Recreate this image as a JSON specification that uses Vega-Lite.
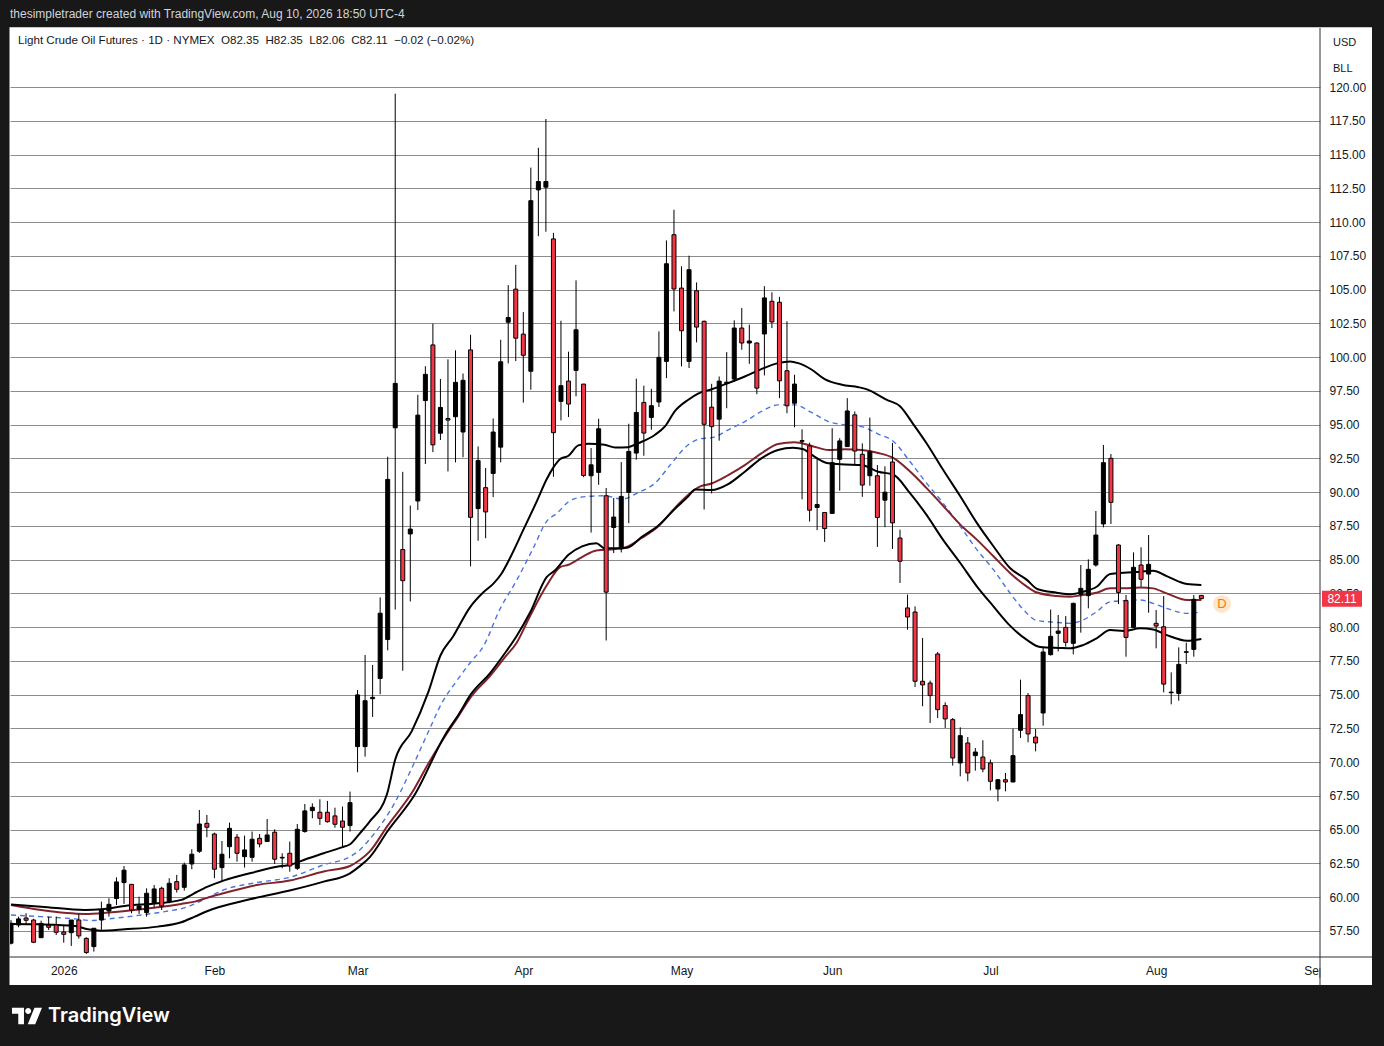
{
  "$schema": "https://vega.github.io/schema/vega-lite/v6.json",
  "description": "Light Crude Oil Futures daily candles with channel lines, TradingView style.",
  "width": 1310,
  "height": 929,
  "autosize": {"type": "none"},
  "padding": {"left": 10, "top": 28, "right": 64, "bottom": 89},
  "background": "#ffffff",
  "config": {"view": {"stroke": null}, "font": "Liberation Sans"},
  "datasets": {
    "candles": [
      {"i":0,"o":56.59,"h":58.3,"l":56.5,"c":58.07},
      {"i":1,"o":57.94,"h":58.56,"l":57.77,"c":58.39},
      {"i":2,"o":58.46,"h":58.81,"l":58.02,"c":58.29},
      {"i":3,"o":58.31,"h":58.4,"l":56.6,"c":56.66},
      {"i":4,"o":57.0,"h":58.26,"l":57.0,"c":58.06},
      {"i":5,"o":57.92,"h":58.56,"l":57.57,"c":57.77},
      {"i":6,"o":57.94,"h":58.56,"l":57.2,"c":57.4},
      {"i":7,"o":57.42,"h":57.94,"l":56.63,"c":57.25},
      {"i":8,"o":57.37,"h":58.31,"l":56.39,"c":58.31},
      {"i":9,"o":58.31,"h":58.76,"l":56.93,"c":57.13},
      {"i":10,"o":56.95,"h":57.03,"l":55.8,"c":55.9},
      {"i":11,"o":56.34,"h":57.7,"l":55.97,"c":57.7},
      {"i":12,"o":58.31,"h":59.67,"l":57.57,"c":59.05},
      {"i":13,"o":58.98,"h":59.92,"l":58.56,"c":59.47},
      {"i":14,"o":59.9,"h":61.47,"l":59.42,"c":61.13},
      {"i":15,"o":61.08,"h":62.31,"l":59.5,"c":62.0},
      {"i":16,"o":60.95,"h":60.98,"l":58.81,"c":59.05},
      {"i":17,"o":59.1,"h":60.04,"l":58.76,"c":59.35},
      {"i":18,"o":58.86,"h":60.66,"l":58.56,"c":60.29},
      {"i":19,"o":59.55,"h":60.9,"l":59.25,"c":60.61},
      {"i":20,"o":60.66,"h":60.78,"l":59.05,"c":59.35},
      {"i":21,"o":59.67,"h":61.4,"l":59.55,"c":61.03},
      {"i":22,"o":61.15,"h":61.65,"l":60.34,"c":60.58},
      {"i":23,"o":60.73,"h":62.56,"l":60.49,"c":62.39},
      {"i":24,"o":62.46,"h":63.55,"l":62.07,"c":63.18},
      {"i":25,"o":63.4,"h":66.46,"l":63.28,"c":65.42},
      {"i":26,"o":65.47,"h":66.09,"l":64.44,"c":65.18},
      {"i":27,"o":64.68,"h":64.78,"l":61.4,"c":62.07},
      {"i":28,"o":62.19,"h":64.16,"l":61.15,"c":63.18},
      {"i":29,"o":63.74,"h":65.52,"l":62.88,"c":65.1},
      {"i":30,"o":64.44,"h":64.68,"l":62.63,"c":63.25},
      {"i":31,"o":63.0,"h":64.56,"l":62.19,"c":63.5},
      {"i":32,"o":62.95,"h":64.86,"l":62.63,"c":64.29},
      {"i":33,"o":64.36,"h":64.68,"l":63.69,"c":63.94},
      {"i":34,"o":64.12,"h":65.79,"l":64.12,"c":64.61},
      {"i":35,"o":64.81,"h":65.03,"l":62.46,"c":62.81},
      {"i":36,"o":62.9,"h":63.25,"l":62.14,"c":62.95},
      {"i":37,"o":63.25,"h":64.12,"l":61.89,"c":62.31},
      {"i":38,"o":62.14,"h":65.42,"l":62.02,"c":65.03},
      {"i":39,"o":64.86,"h":66.9,"l":64.78,"c":66.39},
      {"i":40,"o":66.41,"h":66.95,"l":65.84,"c":66.66},
      {"i":41,"o":66.29,"h":67.25,"l":65.35,"c":65.84},
      {"i":42,"o":66.29,"h":67.13,"l":65.52,"c":65.59},
      {"i":43,"o":66.02,"h":66.63,"l":65.15,"c":65.4},
      {"i":44,"o":65.64,"h":66.71,"l":63.74,"c":65.18},
      {"i":45,"o":65.3,"h":67.82,"l":64.86,"c":67.0},
      {"i":46,"o":71.15,"h":75.35,"l":69.25,"c":74.98},
      {"i":47,"o":71.15,"h":77.94,"l":70.41,"c":74.55},
      {"i":48,"o":74.7,"h":77.2,"l":73.35,"c":74.8},
      {"i":49,"o":76.2,"h":82.2,"l":75.03,"c":81.03},
      {"i":50,"o":79.08,"h":92.62,"l":78.28,"c":90.94},
      {"i":51,"o":94.76,"h":119.5,"l":81.3,"c":98.05},
      {"i":52,"o":85.75,"h":91.5,"l":76.77,"c":83.44},
      {"i":53,"o":86.9,"h":89.0,"l":81.9,"c":87.26},
      {"i":54,"o":89.34,"h":97.2,"l":88.67,"c":95.7},
      {"i":55,"o":96.78,"h":99.32,"l":92.08,"c":98.72},
      {"i":56,"o":100.9,"h":102.47,"l":92.96,"c":93.5},
      {"i":57,"o":94.36,"h":98.38,"l":93.86,"c":96.27},
      {"i":58,"o":95.45,"h":99.83,"l":91.53,"c":95.33},
      {"i":59,"o":95.58,"h":100.5,"l":92.2,"c":98.13},
      {"i":60,"o":94.45,"h":98.78,"l":92.58,"c":98.28},
      {"i":61,"o":100.53,"h":101.65,"l":84.5,"c":88.13},
      {"i":62,"o":88.78,"h":93.38,"l":86.4,"c":92.33},
      {"i":63,"o":90.33,"h":91.78,"l":86.58,"c":88.53},
      {"i":64,"o":91.38,"h":95.45,"l":89.63,"c":94.45},
      {"i":65,"o":93.33,"h":101.28,"l":92.2,"c":99.65},
      {"i":66,"o":102.58,"h":105.33,"l":99.53,"c":102.93},
      {"i":67,"o":105.03,"h":106.83,"l":99.7,"c":101.4},
      {"i":68,"o":101.7,"h":103.33,"l":96.63,"c":100.13},
      {"i":69,"o":98.95,"h":114.03,"l":97.58,"c":111.58},
      {"i":70,"o":112.38,"h":115.5,"l":108.95,"c":113.0},
      {"i":71,"o":112.58,"h":117.63,"l":109.28,"c":113.0},
      {"i":72,"o":108.75,"h":109.2,"l":91.13,"c":94.4},
      {"i":73,"o":96.72,"h":102.69,"l":95.31,"c":97.88},
      {"i":74,"o":98.22,"h":100.4,"l":95.56,"c":96.52},
      {"i":75,"o":99.01,"h":105.68,"l":97.09,"c":102.02},
      {"i":76,"o":98.0,"h":98.0,"l":91.1,"c":91.23},
      {"i":77,"o":91.21,"h":93.26,"l":87.0,"c":92.02},
      {"i":78,"o":91.46,"h":95.43,"l":90.54,"c":94.69},
      {"i":79,"o":89.73,"h":90.3,"l":79.01,"c":82.59},
      {"i":80,"o":87.38,"h":89.56,"l":85.48,"c":88.15},
      {"i":81,"o":85.8,"h":92.22,"l":85.53,"c":89.68},
      {"i":82,"o":89.98,"h":95.06,"l":87.7,"c":93.01},
      {"i":83,"o":92.89,"h":98.4,"l":92.4,"c":95.9},
      {"i":84,"o":96.64,"h":97.88,"l":92.69,"c":94.37},
      {"i":85,"o":95.53,"h":97.65,"l":94.62,"c":96.4},
      {"i":86,"o":96.67,"h":101.9,"l":96.3,"c":99.98},
      {"i":87,"o":99.68,"h":108.64,"l":98.44,"c":106.91},
      {"i":88,"o":109.06,"h":110.91,"l":103.38,"c":105.04},
      {"i":89,"o":105.11,"h":106.72,"l":99.31,"c":101.95},
      {"i":90,"o":99.68,"h":107.51,"l":99.19,"c":106.47},
      {"i":91,"o":104.91,"h":105.53,"l":101.09,"c":102.22},
      {"i":92,"o":102.65,"h":102.7,"l":88.71,"c":95.02},
      {"i":93,"o":96.29,"h":98.02,"l":89.9,"c":94.85},
      {"i":94,"o":95.4,"h":98.56,"l":93.81,"c":98.22},
      {"i":95,"o":98.04,"h":100.37,"l":96.21,"c":98.14},
      {"i":96,"o":98.37,"h":102.72,"l":98.19,"c":102.15},
      {"i":97,"o":102.15,"h":103.64,"l":100.54,"c":101.04},
      {"i":98,"o":101.04,"h":102.4,"l":99.5,"c":101.19},
      {"i":99,"o":101.04,"h":101.1,"l":97.25,"c":97.7},
      {"i":100,"o":101.71,"h":105.25,"l":98.64,"c":104.38},
      {"i":101,"o":104.13,"h":104.8,"l":102.15,"c":102.6},
      {"i":102,"o":104.06,"h":104.46,"l":96.96,"c":98.24},
      {"i":103,"o":98.99,"h":102.65,"l":95.84,"c":96.39},
      {"i":104,"o":96.58,"h":98.69,"l":94.8,"c":98.0},
      {"i":105,"o":93.76,"h":94.65,"l":89.46,"c":93.81},
      {"i":106,"o":93.42,"h":93.66,"l":87.82,"c":88.66},
      {"i":107,"o":88.86,"h":92.45,"l":87.18,"c":89.08},
      {"i":108,"o":88.49,"h":88.5,"l":86.31,"c":87.3},
      {"i":109,"o":88.42,"h":94.73,"l":88.42,"c":92.18},
      {"i":110,"o":92.43,"h":93.99,"l":90.1,"c":93.79},
      {"i":111,"o":93.37,"h":96.96,"l":93.37,"c":96.01},
      {"i":112,"o":95.72,"h":95.97,"l":92.05,"c":93.04},
      {"i":113,"o":92.8,"h":93.61,"l":89.65,"c":90.52},
      {"i":114,"o":91.21,"h":95.52,"l":90.47,"c":93.0},
      {"i":115,"o":91.21,"h":92.0,"l":85.94,"c":88.12},
      {"i":116,"o":89.4,"h":91.91,"l":87.4,"c":89.99},
      {"i":117,"o":92.23,"h":93.64,"l":85.79,"c":87.72},
      {"i":118,"o":86.6,"h":87.22,"l":83.27,"c":84.88},
      {"i":119,"o":81.42,"h":82.41,"l":79.81,"c":80.75},
      {"i":120,"o":81.12,"h":81.54,"l":75.57,"c":75.99},
      {"i":121,"o":75.99,"h":79.2,"l":74.14,"c":75.72},
      {"i":122,"o":75.86,"h":76.04,"l":72.9,"c":74.93},
      {"i":123,"o":78.01,"h":78.16,"l":73.27,"c":73.89},
      {"i":124,"o":74.19,"h":74.43,"l":72.53,"c":73.2},
      {"i":125,"o":73.15,"h":73.27,"l":69.74,"c":70.31},
      {"i":126,"o":69.94,"h":72.58,"l":68.95,"c":71.96},
      {"i":127,"o":71.42,"h":71.86,"l":68.58,"c":69.2},
      {"i":128,"o":70.48,"h":71.05,"l":69.37,"c":70.75},
      {"i":129,"o":70.38,"h":71.62,"l":69.25,"c":69.49},
      {"i":130,"o":69.94,"h":70.19,"l":67.91,"c":68.58},
      {"i":131,"o":68.01,"h":68.75,"l":67.1,"c":68.7},
      {"i":132,"o":68.7,"h":69.2,"l":67.84,"c":68.53},
      {"i":133,"o":68.53,"h":72.48,"l":68.53,"c":70.48},
      {"i":134,"o":72.36,"h":76.11,"l":71.79,"c":73.52},
      {"i":135,"o":74.93,"h":75.12,"l":71.47,"c":72.09},
      {"i":136,"o":71.86,"h":72.46,"l":70.8,"c":71.42},
      {"i":137,"o":73.64,"h":78.46,"l":72.7,"c":78.16},
      {"i":138,"o":77.96,"h":81.3,"l":77.89,"c":79.32},
      {"i":139,"o":79.54,"h":80.9,"l":78.2,"c":79.71},
      {"i":140,"o":79.98,"h":80.82,"l":78.55,"c":78.87},
      {"i":141,"o":78.8,"h":81.81,"l":77.98,"c":81.76},
      {"i":142,"o":82.43,"h":84.6,"l":79.59,"c":82.87},
      {"i":143,"o":82.33,"h":85.02,"l":81.39,"c":84.28},
      {"i":144,"o":84.6,"h":88.6,"l":84.48,"c":86.82},
      {"i":145,"o":87.64,"h":93.49,"l":87.39,"c":92.18},
      {"i":146,"o":92.5,"h":92.82,"l":87.64,"c":89.24},
      {"i":147,"o":86.08,"h":86.15,"l":81.71,"c":82.57},
      {"i":148,"o":81.96,"h":82.38,"l":77.81,"c":79.24},
      {"i":149,"o":79.98,"h":85.54,"l":79.98,"c":84.43},
      {"i":150,"o":84.6,"h":85.91,"l":82.99,"c":83.54},
      {"i":151,"o":83.93,"h":86.82,"l":81.07,"c":84.65},
      {"i":152,"o":80.28,"h":81.27,"l":78.43,"c":80.08},
      {"i":153,"o":80.03,"h":82.3,"l":75.17,"c":75.78},
      {"i":154,"o":75.14,"h":76.65,"l":74.28,"c":75.19},
      {"i":155,"o":75.09,"h":78.5,"l":74.55,"c":77.24},
      {"i":156,"o":78.13,"h":78.85,"l":77.27,"c":78.18},
      {"i":157,"o":78.35,"h":82.38,"l":77.81,"c":82.06},
      {"i":158,"o":82.35,"h":82.35,"l":82.06,"c":82.11}
    ],
    "bands": [
      {"s":"U","i":0,"v":59.45},{"s":"U","i":4,"v":59.3},{"s":"U","i":9.8,"v":59.05},{"s":"U","i":12,"v":59.1},
      {"s":"U","i":15.1,"v":59.35},{"s":"U","i":19.5,"v":59.55},{"s":"U","i":22.6,"v":59.8},{"s":"U","i":24.2,"v":60.25},
      {"s":"U","i":26.1,"v":60.78},{"s":"U","i":28.2,"v":61.23},{"s":"U","i":32.6,"v":61.9},{"s":"U","i":35.3,"v":62.26},
      {"s":"U","i":37,"v":62.39},{"s":"U","i":39.2,"v":62.83},{"s":"U","i":41.5,"v":63.25},{"s":"U","i":43.9,"v":63.69},
      {"s":"U","i":45,"v":63.92},{"s":"U","i":46.3,"v":64.73},{"s":"U","i":47.6,"v":65.6},{"s":"U","i":49.9,"v":67.62},
      {"s":"U","i":51,"v":70.2},{"s":"U","i":53.2,"v":72.3},{"s":"U","i":55.4,"v":75.2},{"s":"U","i":57,"v":77.9},
      {"s":"U","i":58.7,"v":79.33},{"s":"U","i":60.9,"v":81.45},{"s":"U","i":62.7,"v":82.58},{"s":"U","i":64,"v":83.2},
      {"s":"U","i":65.1,"v":83.95},{"s":"U","i":66.2,"v":85.08},{"s":"U","i":68,"v":87.2},{"s":"U","i":69.8,"v":89.33},
      {"s":"U","i":71.1,"v":90.95},{"s":"U","i":72,"v":91.83},{"s":"U","i":72.9,"v":92.45},{"s":"U","i":74,"v":92.69},
      {"s":"U","i":75.3,"v":93.46},{"s":"U","i":76.6,"v":93.58},{"s":"U","i":78.8,"v":93.5},{"s":"U","i":80.2,"v":93.3},
      {"s":"U","i":81.9,"v":93.33},{"s":"U","i":83.3,"v":93.63},{"s":"U","i":85.5,"v":94.25},{"s":"U","i":86.8,"v":94.86},
      {"s":"U","i":88.1,"v":95.98},{"s":"U","i":89.9,"v":96.84},{"s":"U","i":91.2,"v":97.3},{"s":"U","i":93,"v":97.62},
      {"s":"U","i":95.2,"v":98.07},{"s":"U","i":97.4,"v":98.56},{"s":"U","i":99.6,"v":99.11},{"s":"U","i":101.8,"v":99.55},
      {"s":"U","i":103.4,"v":99.68},{"s":"U","i":104.5,"v":99.55},{"s":"U","i":106.3,"v":99.06},{"s":"U","i":108,"v":98.37},
      {"s":"U","i":110.3,"v":97.95},{"s":"U","i":112.5,"v":97.77},{"s":"U","i":113.8,"v":97.57},{"s":"U","i":115.3,"v":97.13},
      {"s":"U","i":116.2,"v":96.85},{"s":"U","i":118,"v":96.36},{"s":"U","i":119.8,"v":95.0},{"s":"U","i":121.5,"v":93.64},
      {"s":"U","i":123.7,"v":91.67},{"s":"U","i":126,"v":89.69},{"s":"U","i":128.2,"v":87.72},{"s":"U","i":130.4,"v":85.99},
      {"s":"U","i":132.6,"v":84.38},{"s":"U","i":134.8,"v":83.52},{"s":"U","i":136.3,"v":82.8},{"s":"U","i":138.8,"v":82.55},
      {"s":"U","i":140.6,"v":82.43},{"s":"U","i":142.3,"v":82.62},{"s":"U","i":144.1,"v":82.99},{"s":"U","i":145.9,"v":83.93},
      {"s":"U","i":147.7,"v":84.03},{"s":"U","i":149.9,"v":84.1},{"s":"U","i":151.6,"v":84.18},{"s":"U","i":153.4,"v":83.78},
      {"s":"U","i":156.1,"v":83.19},{"s":"U","i":158,"v":83.12},

      {"s":"R","i":0,"v":59.42},{"s":"R","i":4,"v":59.05},{"s":"R","i":9.8,"v":58.76},{"s":"R","i":12.9,"v":58.86},
      {"s":"R","i":17.3,"v":59.1},{"s":"R","i":19.5,"v":59.25},{"s":"R","i":22.6,"v":59.5},{"s":"R","i":24.4,"v":59.67},
      {"s":"R","i":26.1,"v":59.97},{"s":"R","i":28.2,"v":60.29},{"s":"R","i":32.6,"v":60.9},{"s":"R","i":37,"v":61.23},
      {"s":"R","i":41.5,"v":61.9},{"s":"R","i":45,"v":62.31},{"s":"R","i":46.3,"v":62.75},{"s":"R","i":47.6,"v":63.37},
      {"s":"R","i":50,"v":65.3},{"s":"R","i":53.4,"v":67.9},{"s":"R","i":55.4,"v":69.9},{"s":"R","i":57.6,"v":71.9},
      {"s":"R","i":59.5,"v":73.5},{"s":"R","i":61,"v":74.8},{"s":"R","i":63.6,"v":76.4},{"s":"R","i":65.6,"v":77.8},
      {"s":"R","i":67.1,"v":78.83},{"s":"R","i":68.9,"v":80.83},{"s":"R","i":71.1,"v":83.08},{"s":"R","i":72.9,"v":84.45},
      {"s":"R","i":74,"v":84.62},{"s":"R","i":75.8,"v":85.19},{"s":"R","i":77.7,"v":85.68},{"s":"R","i":80.2,"v":85.78},
      {"s":"R","i":81.9,"v":85.98},{"s":"R","i":83.7,"v":86.6},{"s":"R","i":85.9,"v":87.46},{"s":"R","i":88.1,"v":88.81},
      {"s":"R","i":89.9,"v":89.8},{"s":"R","i":91.5,"v":90.42},{"s":"R","i":93,"v":90.64},{"s":"R","i":95.2,"v":91.26},
      {"s":"R","i":97.4,"v":92.0},{"s":"R","i":99.6,"v":92.87},{"s":"R","i":101.8,"v":93.56},{"s":"R","i":104,"v":93.69},
      {"s":"R","i":106.3,"v":93.42},{"s":"R","i":108.5,"v":93.12},{"s":"R","i":110.7,"v":93.17},{"s":"R","i":112.9,"v":93.12},
      {"s":"R","i":115.1,"v":92.9},{"s":"R","i":117.1,"v":92.53},{"s":"R","i":119.3,"v":91.54},{"s":"R","i":121.5,"v":90.31},
      {"s":"R","i":123.7,"v":89.0},{"s":"R","i":126,"v":87.59},{"s":"R","i":128.2,"v":86.48},{"s":"R","i":130.4,"v":85.25},
      {"s":"R","i":132.6,"v":84.01},{"s":"R","i":134.8,"v":83.02},{"s":"R","i":136.1,"v":82.58},{"s":"R","i":138.8,"v":82.3},
      {"s":"R","i":140.6,"v":82.25},{"s":"R","i":142.3,"v":82.38},{"s":"R","i":144.1,"v":82.55},{"s":"R","i":145.9,"v":82.87},
      {"s":"R","i":147.7,"v":82.87},{"s":"R","i":149.9,"v":82.94},{"s":"R","i":151.6,"v":82.87},{"s":"R","i":153.4,"v":82.5},
      {"s":"R","i":156.1,"v":82.01},{"s":"R","i":158,"v":82.01},

      {"s":"L","i":0,"v":58.02},{"s":"L","i":4,"v":57.99},{"s":"L","i":8.5,"v":57.87},{"s":"L","i":10.2,"v":57.62},
      {"s":"L","i":12,"v":57.52},{"s":"L","i":15.1,"v":57.62},{"s":"L","i":19.5,"v":57.82},{"s":"L","i":22.6,"v":58.14},
      {"s":"L","i":24.4,"v":58.56},{"s":"L","i":26.1,"v":58.98},{"s":"L","i":31.7,"v":59.84},{"s":"L","i":37,"v":60.49},
      {"s":"L","i":41.5,"v":61.15},{"s":"L","i":45,"v":61.77},{"s":"L","i":46.3,"v":62.3},{"s":"L","i":47.6,"v":62.95},
      {"s":"L","i":50,"v":64.9},{"s":"L","i":53.6,"v":67.6},{"s":"L","i":57.6,"v":72.0},{"s":"L","i":59.5,"v":73.6},
      {"s":"L","i":61,"v":75.0},{"s":"L","i":63.6,"v":76.6},{"s":"L","i":65.6,"v":78.1},{"s":"L","i":67.1,"v":79.33},
      {"s":"L","i":68.9,"v":81.08},{"s":"L","i":71.1,"v":83.7},{"s":"L","i":72.2,"v":84.2},{"s":"L","i":74,"v":85.36},
      {"s":"L","i":75.8,"v":85.98},{"s":"L","i":77.7,"v":86.22},{"s":"L","i":78.8,"v":85.85},{"s":"L","i":81.1,"v":85.85},
      {"s":"L","i":81.9,"v":85.9},{"s":"L","i":83.7,"v":86.67},{"s":"L","i":85.9,"v":87.51},{"s":"L","i":88.1,"v":88.74},
      {"s":"L","i":89.9,"v":89.68},{"s":"L","i":90.8,"v":90.2},{"s":"L","i":93,"v":90.15},{"s":"L","i":95.2,"v":90.59},
      {"s":"L","i":97.4,"v":91.51},{"s":"L","i":99.6,"v":92.5},{"s":"L","i":101.8,"v":93.12},{"s":"L","i":103.8,"v":93.29},
      {"s":"L","i":105.2,"v":93.17},{"s":"L","i":106.3,"v":92.75},{"s":"L","i":108.5,"v":92.13},{"s":"L","i":110.7,"v":92.05},
      {"s":"L","i":112.9,"v":92.0},{"s":"L","i":115.1,"v":91.51},{"s":"L","i":117.1,"v":91.3},{"s":"L","i":119.3,"v":89.94},
      {"s":"L","i":121.5,"v":88.33},{"s":"L","i":123.7,"v":86.48},{"s":"L","i":126,"v":84.75},{"s":"L","i":128.2,"v":83.02},
      {"s":"L","i":130.4,"v":81.54},{"s":"L","i":132.6,"v":80.11},{"s":"L","i":134.8,"v":79.07},{"s":"L","i":136.6,"v":78.53},
      {"s":"L","i":139.2,"v":78.46},{"s":"L","i":140.6,"v":78.43},{"s":"L","i":142.3,"v":78.67},{"s":"L","i":144.1,"v":79.17},
      {"s":"L","i":145.9,"v":79.78},{"s":"L","i":147.7,"v":79.71},{"s":"L","i":149.9,"v":79.91},{"s":"L","i":151.6,"v":79.83},
      {"s":"L","i":153.4,"v":79.41},{"s":"L","i":156.1,"v":78.99},{"s":"L","i":158,"v":79.12},

      {"s":"B","i":0,"v":58.68},{"s":"B","i":4,"v":58.56},{"s":"B","i":8.5,"v":58.39},{"s":"B","i":10.7,"v":58.27},
      {"s":"B","i":12.9,"v":58.39},{"s":"B","i":17.3,"v":58.68},{"s":"B","i":20.4,"v":58.93},{"s":"B","i":23.5,"v":59.3},
      {"s":"B","i":25.5,"v":59.8},{"s":"B","i":28.2,"v":60.53},{"s":"B","i":32.6,"v":61.08},{"s":"B","i":37,"v":61.47},
      {"s":"B","i":41.5,"v":62.39},{"s":"B","i":45,"v":63.0},{"s":"B","i":46.3,"v":63.5},{"s":"B","i":47.6,"v":64.29},
      {"s":"B","i":51,"v":67.05},{"s":"B","i":53.2,"v":69.56},{"s":"B","i":55.4,"v":72.25},{"s":"B","i":57.2,"v":74.4},
      {"s":"B","i":59,"v":75.9},{"s":"B","i":61,"v":77.4},{"s":"B","i":62.7,"v":78.58},{"s":"B","i":64.9,"v":81.33},
      {"s":"B","i":67.1,"v":83.45},{"s":"B","i":69.3,"v":85.83},{"s":"B","i":71.1,"v":87.83},{"s":"B","i":72.4,"v":88.4},
      {"s":"B","i":74.4,"v":89.43},{"s":"B","i":76.6,"v":89.68},{"s":"B","i":78.8,"v":89.73},{"s":"B","i":81.1,"v":89.48},
      {"s":"B","i":83.3,"v":89.98},{"s":"B","i":85.5,"v":90.67},{"s":"B","i":87.7,"v":92.15},{"s":"B","i":89.9,"v":93.51},
      {"s":"B","i":91.5,"v":93.95},{"s":"B","i":93,"v":94.03},{"s":"B","i":95.2,"v":94.6},{"s":"B","i":97.4,"v":95.22},
      {"s":"B","i":99.6,"v":95.97},{"s":"B","i":101.8,"v":96.46},{"s":"B","i":104,"v":96.46},{"s":"B","i":106.3,"v":95.89},
      {"s":"B","i":108.5,"v":95.22},{"s":"B","i":110.7,"v":94.98},{"s":"B","i":112.9,"v":94.85},{"s":"B","i":115.1,"v":94.3},
      {"s":"B","i":117.1,"v":93.77},{"s":"B","i":119.3,"v":92.28},{"s":"B","i":121.5,"v":90.68},{"s":"B","i":123.7,"v":89.2},
      {"s":"B","i":126,"v":87.47},{"s":"B","i":128.2,"v":85.74},{"s":"B","i":130.4,"v":84.26},{"s":"B","i":132.6,"v":82.53},
      {"s":"B","i":134.8,"v":81.05},{"s":"B","i":136.1,"v":80.5},{"s":"B","i":138.8,"v":80.35},{"s":"B","i":140.6,"v":80.28},
      {"s":"B","i":142.3,"v":80.53},{"s":"B","i":144.1,"v":81.14},{"s":"B","i":145.9,"v":81.88},{"s":"B","i":147.7,"v":81.96},
      {"s":"B","i":149.9,"v":82.01},{"s":"B","i":151.6,"v":81.76},{"s":"B","i":153.4,"v":81.39},{"s":"B","i":156.1,"v":81.02},
      {"s":"B","i":158,"v":81.14}
    ]
  },
  "layer": [
    {
      "data": {"values": [{}]},
      "mark": {"type": "rect", "color": "#181818"},
      "encoding": {"x": {"datum": -5}, "x2": {"datum": 186}, "y": {"datum": 130}, "y2": {"datum": 124.42}}
    },
    {
      "data": {"values": [{}]},
      "mark": {"type": "rect", "color": "#181818"},
      "encoding": {"x": {"datum": -5}, "x2": {"datum": -0.2}, "y": {"datum": 130}, "y2": {"datum": 45}}
    },
    {
      "data": {"values": [{}]},
      "mark": {"type": "rect", "color": "#181818"},
      "encoding": {"x": {"datum": 180.65}, "x2": {"datum": 186}, "y": {"datum": 130}, "y2": {"datum": 45}}
    },
    {
      "data": {"values": [{}]},
      "mark": {"type": "rect", "color": "#181818"},
      "encoding": {"x": {"datum": -5}, "x2": {"datum": 186}, "y": {"datum": 53.5}, "y2": {"datum": 45}}
    },
    {
      "data": {"values": [{}]},
      "mark": {"type": "rect", "color": "#ffffff"},
      "encoding": {"x": {"datum": 173.8}, "x2": {"datum": 180.65}, "y": {"datum": 55.5}, "y2": {"datum": 53.5}}
    },
    {
      "data": {"name": "bands"},
      "transform": [{"filter": "datum.s == 'B'"}],
      "mark": {"type": "line", "color": "#4a74e0", "strokeWidth": 1.4, "strokeDash": [5, 4], "interpolate": "monotone", "clip": true},
      "encoding": {"x": {"field": "i", "type": "quantitative"}, "y": {"field": "v", "type": "quantitative"}}
    },
    {
      "data": {"name": "bands"},
      "transform": [{"filter": "datum.s == 'R'"}],
      "mark": {"type": "line", "color": "#82232b", "strokeWidth": 2, "interpolate": "monotone", "clip": true},
      "encoding": {"x": {"field": "i", "type": "quantitative"}, "y": {"field": "v", "type": "quantitative"}}
    },
    {
      "data": {"name": "bands"},
      "transform": [{"filter": "datum.s == 'U'"}],
      "mark": {"type": "line", "color": "#000000", "strokeWidth": 2, "interpolate": "monotone", "clip": true},
      "encoding": {"x": {"field": "i", "type": "quantitative"}, "y": {"field": "v", "type": "quantitative"}}
    },
    {
      "data": {"name": "bands"},
      "transform": [{"filter": "datum.s == 'L'"}],
      "mark": {"type": "line", "color": "#000000", "strokeWidth": 2, "interpolate": "monotone", "clip": true},
      "encoding": {"x": {"field": "i", "type": "quantitative"}, "y": {"field": "v", "type": "quantitative"}}
    },
    {
      "data": {"name": "candles"},
      "mark": {"type": "rule", "color": "#000000", "strokeWidth": 1, "clip": true},
      "encoding": {
        "x": {
          "field": "i",
          "type": "quantitative",
          "scale": {"domain": [-0.1327, 173.75], "nice": false, "zero": false, "padding": 0},
          "axis": {
            "title": null,
            "orient": "bottom",
            "values": [7, 27, 46, 68, 89, 109, 130, 152, 173],
            "tickCount": 40,
            "labelExpr": "datum.value == 7 ? '2026' : datum.value == 27 ? 'Feb' : datum.value == 46 ? 'Mar' : datum.value == 68 ? 'Apr' : datum.value == 89 ? 'May' : datum.value == 109 ? 'Jun' : datum.value == 130 ? 'Jul' : datum.value == 152 ? 'Aug' : 'Sep'",
            "grid": false,
            "ticks": false,
            "domain": false,
            "labelPadding": 8,
            "labelFlush": false,
            "labelOverlap": false,
            "labelFont": "Liberation Sans",
            "labelFontSize": 12,
            "labelColor": "#131722"
          }
        },
        "y": {
          "field": "l",
          "type": "quantitative",
          "scale": {"domain": [55.57, 124.37], "nice": false, "zero": false, "padding": 0},
          "axis": {
            "title": null,
            "orient": "right",
            "values": [57.5, 60, 62.5, 65, 67.5, 70, 72.5, 75, 77.5, 80, 82.5, 85, 87.5, 90, 92.5, 95, 97.5, 100, 102.5, 105, 107.5, 110, 112.5, 115, 117.5, 120],
            "tickCount": 40,
            "format": ".2f",
            "grid": true,
            "gridColor": "#8c8c8c",
            "gridWidth": 1,
            "ticks": false,
            "domain": false,
            "labelPadding": 9,
            "labelOverlap": false,
            "labelFont": "Liberation Sans",
            "labelFontSize": 12,
            "labelColor": "#131722"
          }
        },
        "y2": {"field": "h"}
      }
    },
    {
      "data": {"name": "candles"},
      "mark": {"type": "bar", "width": 4, "stroke": "#000000", "strokeWidth": 1, "clip": true},
      "encoding": {
        "x": {"field": "i", "type": "quantitative"},
        "y": {"field": "o", "type": "quantitative"},
        "y2": {"field": "c"},
        "fill": {"condition": {"test": "datum.c >= datum.o", "value": "#000000"}, "value": "#f23645"}
      }
    },
    {
      "data": {"values": [{}]},
      "mark": {"type": "rule", "color": "#2a2e39", "strokeWidth": 1},
      "encoding": {"x": {"datum": 173.75}, "y": {"datum": 124.37}, "y2": {"datum": 53.5}}
    },
    {
      "data": {"values": [{}]},
      "mark": {"type": "rule", "color": "#2a2e39", "strokeWidth": 1},
      "encoding": {"x": {"datum": -0.2}, "x2": {"datum": 180.65}, "y": {"datum": 55.57}}
    },
    {
      "data": {"values": [{}]},
      "mark": {"type": "point", "shape": "M-1.25,-0.5H1.25V0.5H-1.25Z", "filled": true, "color": "#f23645", "opacity": 1, "size": 1024, "strokeWidth": 0},
      "encoding": {"x": {"datum": 176.67}, "y": {"datum": 82.11}}
    },
    {
      "data": {"values": [{"t": "82.11"}]},
      "mark": {"type": "text", "color": "#ffffff", "font": "Liberation Sans", "fontSize": 12, "align": "center", "baseline": "middle"},
      "encoding": {"x": {"datum": 176.67}, "y": {"datum": 82.11}, "text": {"field": "t"}}
    },
    {
      "data": {"values": [{}]},
      "mark": {"type": "point", "shape": "circle", "filled": true, "color": "#fde6cc", "opacity": 1, "size": 324, "strokeWidth": 0},
      "encoding": {"x": {"datum": 160.74}, "y": {"datum": 81.72}}
    },
    {
      "data": {"values": [{"t": "D"}]},
      "mark": {"type": "text", "color": "#f57c00", "font": "Liberation Sans", "fontSize": 13, "align": "center", "baseline": "middle"},
      "encoding": {"x": {"datum": 160.74}, "y": {"datum": 81.72}, "text": {"field": "t"}}
    },
    {
      "data": {"values": [{"t": "USD"}]},
      "mark": {"type": "text", "color": "#131722", "font": "Liberation Sans", "fontSize": 11, "align": "left", "baseline": "middle"},
      "encoding": {"x": {"datum": 175.47}, "y": {"datum": 123.26}, "text": {"field": "t"}}
    },
    {
      "data": {"values": [{"t": "BLL"}]},
      "mark": {"type": "text", "color": "#131722", "font": "Liberation Sans", "fontSize": 11, "align": "left", "baseline": "middle"},
      "encoding": {"x": {"datum": 175.47}, "y": {"datum": 121.33}, "text": {"field": "t"}}
    },
    {
      "data": {"values": [{"t": "thesimpletrader created with TradingView.com, Aug 10, 2026 18:50 UTC-4"}]},
      "mark": {"type": "text", "color": "#d1d4dc", "font": "Liberation Sans", "fontSize": 12, "align": "left", "baseline": "middle"},
      "encoding": {"x": {"datum": -0.133}, "y": {"datum": 125.41}, "text": {"field": "t"}}
    },
    {
      "data": {"values": [{"t": "Light Crude Oil Futures · 1D · NYMEX\u00a0 O82.35\u00a0 H82.35\u00a0 L82.06\u00a0 C82.11\u00a0 −0.02 (−0.02%)"}]},
      "mark": {"type": "text", "color": "#131722", "font": "Liberation Sans", "fontSize": 11.6, "align": "left", "baseline": "middle"},
      "encoding": {"x": {"datum": 0.93}, "y": {"datum": 123.41}, "text": {"field": "t"}}
    },
    {
      "data": {"values": [{}]},
      "mark": {"type": "point", "shape": "M-1,-0.55H-0.2V0.55H-0.58V-0.15H-1Z M-0.12,-0.33A0.2,0.2 0 1,0 0.28,-0.33A0.2,0.2 0 1,0 -0.12,-0.33Z M0.5,-0.55H1L0.55,0.55H0.05Z", "filled": true, "color": "#ffffff", "opacity": 1, "size": 900, "strokeWidth": 0},
      "encoding": {"x": {"datum": 2.12}, "y": {"datum": 51.2}}
    },
    {
      "data": {"values": [{"t": "TradingView"}]},
      "mark": {"type": "text", "color": "#ffffff", "font": "Inter", "fontSize": 20, "fontWeight": 600, "align": "left", "baseline": "middle"},
      "encoding": {"x": {"datum": 4.91}, "y": {"datum": 51.2}, "text": {"field": "t"}}
    }
  ]
}
